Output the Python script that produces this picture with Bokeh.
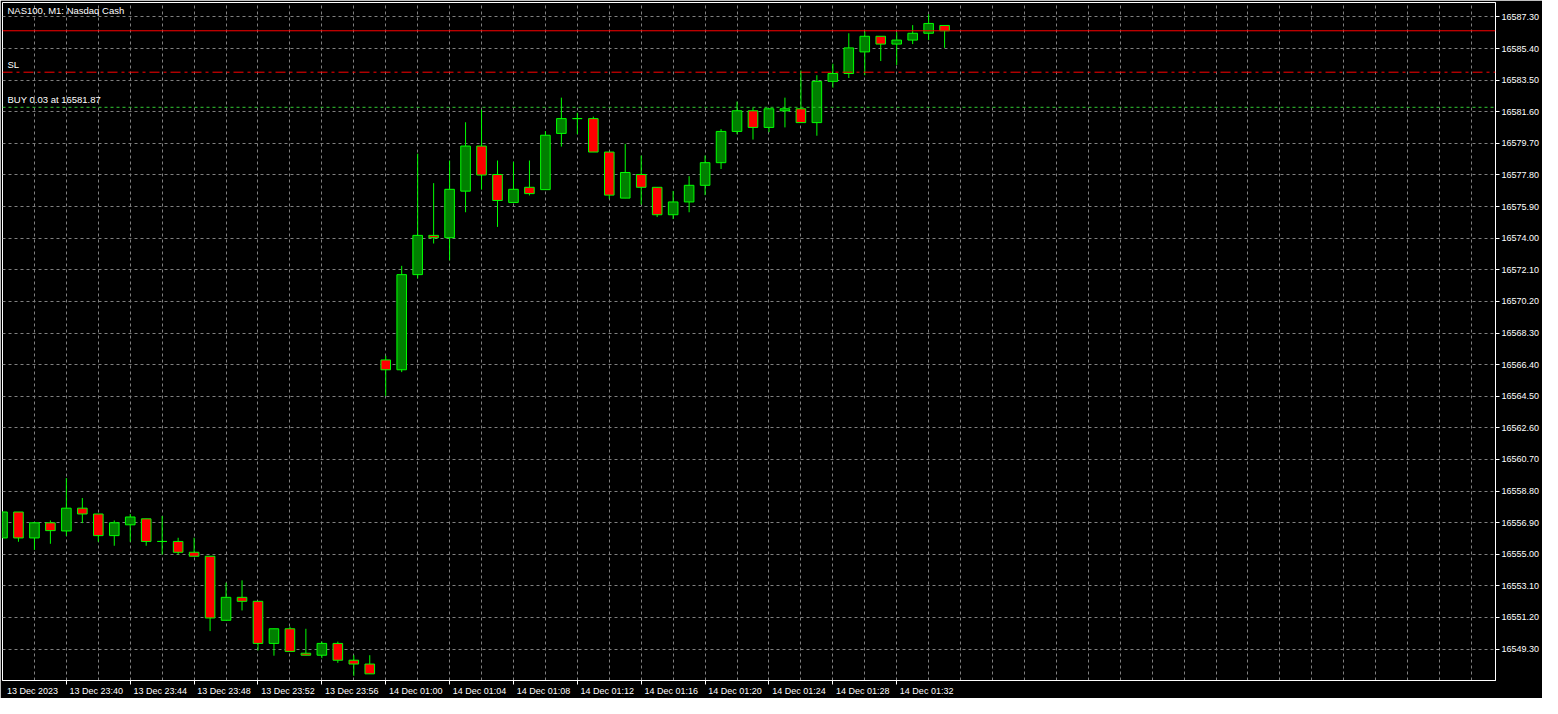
from bokeh.plotting import figure
from bokeh.models import (ColumnDataSource, FixedTicker, PrintfTickFormatter,
                          Span, Label, Range1d)
from bokeh.embed import file_html
from bokeh.resources import INLINE

# ---------------- data ----------------
times = ["23:36", "23:37", "23:38", "23:39", "23:40", "23:41", "23:42", "23:43",
         "23:44", "23:45", "23:46", "23:47", "23:48", "23:49", "23:50", "23:51",
         "23:52", "23:53", "23:54", "23:55", "23:56", "23:57", "23:58", "23:59",
         "01:00", "01:01", "01:02", "01:03", "01:04", "01:05", "01:06", "01:07",
         "01:08", "01:09", "01:10", "01:11", "01:12", "01:13", "01:14", "01:15",
         "01:16", "01:17", "01:18", "01:19", "01:20", "01:21", "01:22", "01:23",
         "01:24", "01:25", "01:26", "01:27", "01:28", "01:29", "01:30", "01:31",
         "01:32", "01:33", "01:34", "01:35"]

opens = [16555.98, 16557.54, 16555.98, 16556.89, 16556.40, 16557.77, 16557.42, 16556.12,
         16556.77, 16557.13, 16555.77, 16555.77, 16555.12, 16554.88, 16551.03, 16552.41,
         16552.17, 16549.64, 16550.52, 16549.05, 16548.93, 16549.64, 16548.63, 16548.40,
         16566.68, 16566.09, 16571.81, 16574.17, 16574.03, 16576.83, 16579.54, 16577.83,
         16576.15, 16577.06, 16576.92, 16580.30, 16581.19, 16581.19, 16579.18, 16576.41,
         16577.83, 16577.06, 16575.41, 16576.18, 16577.18, 16578.54, 16580.42, 16581.66,
         16580.66, 16581.66, 16581.78, 16580.95, 16583.43, 16583.90, 16585.20, 16586.14,
         16585.67, 16585.91, 16586.32, 16586.79]

highs = [16557.60, 16557.54, 16556.89, 16557.03, 16559.58, 16558.38, 16557.42, 16557.03,
         16557.42, 16557.13, 16557.30, 16555.99, 16555.99, 16554.88, 16553.29, 16553.43,
         16552.17, 16550.52, 16550.64, 16550.52, 16549.75, 16549.75, 16548.93, 16548.93,
         16566.93, 16572.34, 16579.08, 16577.31, 16578.67, 16580.97, 16581.72, 16578.67,
         16578.59, 16578.67, 16580.44, 16582.45, 16581.54, 16581.31, 16579.18, 16579.67,
         16578.97, 16577.06, 16576.84, 16577.73, 16578.97, 16580.56, 16582.21, 16581.84,
         16581.78, 16582.45, 16584.08, 16583.80, 16584.49, 16586.32, 16586.44, 16586.14,
         16586.38, 16586.81, 16587.46, 16586.79]

lows = [16555.98, 16555.75, 16555.26, 16555.63, 16556.10, 16556.87, 16555.75, 16555.51,
        16555.75, 16555.51, 16554.98, 16554.98, 16554.88, 16550.38, 16551.03, 16551.62,
        16549.22, 16548.90, 16549.16, 16548.93, 16548.75, 16548.47, 16547.69, 16547.81,
        16564.52, 16565.95, 16571.58, 16573.68, 16572.67, 16575.56, 16576.92, 16574.68,
        16576.15, 16576.57, 16576.92, 16579.51, 16580.25, 16579.18, 16576.37, 16576.41,
        16576.02, 16575.27, 16575.15, 16575.56, 16576.59, 16578.16, 16580.25, 16579.93,
        16580.38, 16580.66, 16580.95, 16580.16, 16583.05, 16583.63, 16583.80, 16584.65,
        16584.41, 16585.67, 16585.91, 16585.44]

closes = [16557.54, 16555.98, 16556.89, 16556.42, 16557.77, 16557.42, 16556.12, 16556.89,
          16557.24, 16555.77, 16555.77, 16555.12, 16554.88, 16551.17, 16552.41, 16552.17,
          16549.64, 16550.52, 16549.16, 16548.93, 16549.64, 16548.63, 16548.40, 16547.81,
          16566.09, 16571.81, 16574.17, 16574.03, 16576.94, 16579.54, 16577.80, 16576.27,
          16576.94, 16576.68, 16580.19, 16581.19, 16581.19, 16579.18, 16576.59, 16577.95,
          16577.06, 16575.41, 16576.18, 16577.18, 16578.54, 16580.42, 16581.66, 16580.66,
          16581.78, 16581.78, 16580.95, 16583.43, 16583.90, 16585.44, 16586.14, 16585.67,
          16585.91, 16586.32, 16586.91, 16586.47]

price_ticks = [16549.30, 16551.20, 16553.10, 16555.00, 16556.90, 16558.80, 16560.70,
               16562.60, 16564.50, 16566.40, 16568.30, 16570.20, 16572.10, 16574.00,
               16575.90, 16577.80, 16579.70, 16581.60, 16583.50, 16585.40, 16587.30]

first_label = "13 Dec 2023"
time_labels = ["13 Dec 23:40", "13 Dec 23:44", "13 Dec 23:48", "13 Dec 23:52",
               "13 Dec 23:56", "14 Dec 01:00", "14 Dec 01:04", "14 Dec 01:08",
               "14 Dec 01:12", "14 Dec 01:16", "14 Dec 01:20", "14 Dec 01:24",
               "14 Dec 01:28", "14 Dec 01:32"]

title_text = "NAS100, M1:  Nasdaq Cash"
current_price = 16586.47
sl_price = 16583.98
buy_price = 16581.87
buy_text = "BUY 0.03 at 16581.87"

# ---------------- styles ----------------
FONT = "Liberation Sans"
FS = "9px"
FS_IN = "9.5px"
LIME = "#00ff00"
BULL = "#008000"
BEAR = "#ff0000"
GRID = "#808080"

xs = list(range(len(times)))
src = ColumnDataSource(dict(
    x=xs, open=opens, close=closes, high=highs, low=lows,
    top=[max(o, c) for o, c in zip(opens, closes)],
    bottom=[min(o, c) for o, c in zip(opens, closes)],
    fill=[BEAR if c < o else BULL for o, c in zip(opens, closes)],
))

p = figure(width=1542, height=698,
           x_range=Range1d(0.0, 93.5), y_range=Range1d(16547.41, 16588.17),
           y_axis_location="right", output_backend="svg", toolbar_location=None,
           background_fill_color="black", border_fill_color="black",
           min_border_left=2, min_border_top=2, min_border_right=44, min_border_bottom=12)
p.outline_line_color = "white"
p.outline_line_width = 1

# grids
grid_pos = [float(k) for k in range(2, 94, 2)]
p.xgrid.ticker = FixedTicker(ticks=grid_pos)
p.ygrid.ticker = FixedTicker(ticks=price_ticks)
for g in (p.xgrid, p.ygrid):
    g.grid_line_color = GRID
    g.grid_line_dash = "3 3"
    g.grid_line_width = 1

# x axis: labels to the right of each tick mark
tick_pos = [float(times.index(t[-5:])) for t in time_labels]
label_pos = [1.875] + [t + 1.875 for t in tick_pos]
overrides = {label_pos[0]: first_label}
for lp, txt in zip(label_pos[1:], time_labels):
    overrides[lp] = txt
xa = p.xaxis[0]
xa.ticker = FixedTicker(ticks=label_pos, minor_ticks=tick_pos)
xa.major_label_overrides = overrides
xa.major_tick_out = 0
xa.major_tick_in = 0
xa.minor_tick_out = 4
xa.minor_tick_in = 0
xa.minor_tick_line_color = "white"
xa.axis_line_color = "white"
xa.major_label_text_color = "white"
xa.major_label_text_font = FONT
xa.major_label_text_font_size = FS
xa.major_label_standoff = 1

ya = p.yaxis[0]
ya.ticker = FixedTicker(ticks=price_ticks)
ya.formatter = PrintfTickFormatter(format="%.2f")
ya.major_tick_out = 4
ya.major_tick_in = 0
ya.minor_tick_out = 0
ya.minor_tick_in = 0
ya.major_tick_line_color = "white"
ya.axis_line_color = "white"
ya.major_label_text_color = "white"
ya.major_label_text_font = FONT
ya.major_label_text_font_size = FS
ya.major_label_standoff = 2

# level lines
p.add_layout(Span(location=current_price, dimension="width", line_color=BEAR, line_width=1))
p.add_layout(Span(location=sl_price, dimension="width", line_color=BEAR, line_width=1,
                  line_dash="10 4 3 4"))
p.add_layout(Span(location=buy_price, dimension="width", line_color="#33cc33", line_width=1,
                  line_dash="3 3"))

# candles
p.segment(x0="x", y0="low", x1="x", y1="high", source=src, line_color=LIME, line_width=1)
p.vbar(x="x", width=0.6, top="top", bottom="bottom", source=src,
       fill_color="fill", line_color=LIME, line_width=1)

# texts
p.add_layout(Label(x=5, x_units="screen", y=16588.0, text=title_text,
                   text_color="white", text_font=FONT, text_font_size=FS_IN,
                   text_baseline="top"))
p.add_layout(Label(x=5, x_units="screen", y=sl_price, y_offset=2, text="SL",
                   text_color="white", text_font=FONT, text_font_size=FS_IN,
                   text_baseline="bottom"))
p.add_layout(Label(x=5, x_units="screen", y=buy_price, y_offset=2, text=buy_text,
                   text_color="white", text_font=FONT, text_font_size=FS_IN,
                   text_baseline="bottom"))
p.add_layout(Label(x=1501, x_units="screen", y=current_price, text=f"{current_price:.2f}",
                   text_color="black", text_font=FONT, text_font_size=FS,
                   text_baseline="middle", text_align="left",
                   background_fill_color=BEAR, padding=2))

open("out.html", "w").write(file_html(p, INLINE))
